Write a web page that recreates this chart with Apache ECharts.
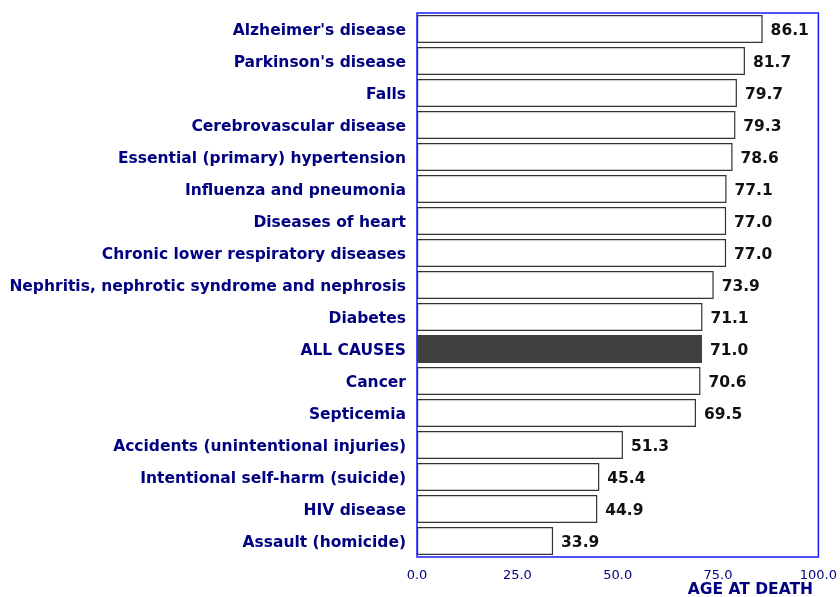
<!DOCTYPE html>
<html>
<head>
<meta charset="utf-8">
<script src="https://cdn.jsdelivr.net/npm/echarts@6/dist/echarts.min.js"></script>
<style>html,body{margin:0;padding:0;background:#fff}#chart{width:840px;height:597px}</style>
</head>
<body>
<div id="chart"></div>
<script>
const categories = [
  "Alzheimer's disease",
  "Parkinson's disease",
  "Falls",
  "Cerebrovascular disease",
  "Essential (primary) hypertension",
  "Influenza and pneumonia",
  "Diseases of heart",
  "Chronic lower respiratory diseases",
  "Nephritis, nephrotic syndrome and nephrosis",
  "Diabetes",
  "ALL CAUSES",
  "Cancer",
  "Septicemia",
  "Accidents (unintentional injuries)",
  "Intentional self-harm (suicide)",
  "HIV disease",
  "Assault (homicide)"
];
const ageAtDeath = [86.1, 81.7, 79.7, 79.3, 78.6, 77.1, 77.0, 77.0, 73.9, 71.1, 71.0, 70.6, 69.5, 51.3, 45.4, 44.9, 33.9];
const highlightCategory = "ALL CAUSES";
const axisTitle = "AGE AT DEATH";

const chart = echarts.init(document.getElementById('chart'));
const navy = '#000080';
const fontFam = '"DejaVu Sans", Verdana, sans-serif';
chart.setOption({
  animation: false,
  grid: {left: 417, right: 15, top: 13, bottom: 40, show: true, borderColor: '#1a1aff', borderWidth: 1.5, backgroundColor: 'transparent'},
  xAxis: {
    type: 'value', min: 0, max: 100, interval: 25,
    axisLine: {show: false}, axisTick: {show: false}, splitLine: {show: false},
    axisLabel: {color: navy, fontFamily: fontFam, fontSize: 13, margin: 12,
      formatter: v => v.toFixed(1)}
  },
  yAxis: {
    type: 'category', data: categories, inverse: true,
    axisLine: {show: false}, axisTick: {show: false},
    axisLabel: {margin: 11, formatter: v => '{a|' + v + '}',
      rich: {a: {color: navy, fontFamily: fontFam, fontWeight: 'bold', fontSize: 15.5, padding: [4, 0, 0, 0]}}}
  },
  series: [{
    type: 'bar',
    barCategoryGap: '13%',
    data: ageAtDeath.map((v, i) => ({
      value: v,
      itemStyle: categories[i] === highlightCategory
        ? {color: '#404040', borderColor: '#404040', borderWidth: 1.2}
        : {color: '#ffffff', borderColor: '#333333', borderWidth: 1.2}
    })),
    label: {show: true, position: 'right', distance: 8, offset: [0, 2], color: '#111', fontFamily: fontFam,
      fontWeight: 'bold', fontSize: 15.5, formatter: p => p.value.toFixed(1)}
  }],
  graphic: [{
    type: 'text', right: 27, top: 582,
    style: {text: axisTitle, fill: navy, font: 'bold 15.5px "DejaVu Sans", Verdana, sans-serif'}
  }]
});
</script>
</body>
</html>
